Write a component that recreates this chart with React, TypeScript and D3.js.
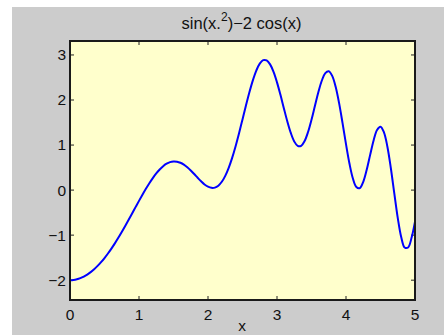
import * as d3 from 'd3';

// values, step 0.05
const xValues = d3.range(0, 101).map(i => +(i * 0.05).toFixed(2));
const yValues = [
  -2.0, -1.995, -1.98, -1.955, -1.9201, -1.8754, -1.8208, -1.7566, -1.6828, -1.5998,
  -1.5078, -1.4071, -1.2984, -1.1821, -1.0591, -0.9301, -0.7962, -0.6586, -0.5189, -0.3785,
  -0.2391, -0.103, 0.0284, 0.1526, 0.2667, 0.3693, 0.4579, 0.5306, 0.5853, 0.621,
  0.6366, 0.6315, 0.6078, 0.5657, 0.5066, 0.4355, 0.3562, 0.2739, 0.1948, 0.1246,
  0.0755, 0.0496, 0.0552, 0.0985, 0.185, 0.3167, 0.4951, 0.7156, 0.9751, 1.2634,
  1.5691, 1.8777, 2.1727, 2.4369, 2.6539, 2.8065, 2.8844, 2.8797, 2.7915, 2.6244,
  2.3921, 2.1146, 1.8141, 1.5225, 1.2687, 1.0805, 0.9805, 0.9823, 1.0885, 1.2894,
  1.5618, 1.8716, 2.1771, 2.4332, 2.5981, 2.6384, 2.5365, 2.2936, 1.9295, 1.4866,
  1.0194, 0.5901, 0.2575, 0.0683, 0.0449, 0.1841, 0.4497, 0.7819, 1.1032, 1.3346,
  1.4071, 1.2835, 0.9629, 0.4849, -0.0739, -0.616, -1.0418, -1.2735, -1.2739, -1.0601,
  -0.6997,
];
const xTicks = [0, 1, 2, 3, 4, 5];
const yTicks = [-2, -1, 0, 1, 2, 3];
const title = 'sin(x.';
const titleTail = ')\u22122 cos(x)';
const xLabel = 'x';

const W = 444;
const H = 335;
const plot = { left: 70, right: 415, top: 41, bottom: 300 };
const font = '"Liberation Sans", Arial, sans-serif';
const fmt = (v: number) => (v < 0 ? '\u2212' + Math.abs(v) : String(v));

export default function App() {
  const x = d3.scaleLinear().domain([0, 5]).range([plot.left, plot.right]);
  const y = d3.scaleLinear().domain([-2.44, 3.31]).range([plot.bottom, plot.top]);

  const points: [number, number][] = xValues.map((v, i) => [v, yValues[i]]);
  const line = d3.line<[number, number]>()
    .x(d => x(d[0]))
    .y(d => y(d[1]))
    .curve(d3.curveCatmullRom.alpha(0.5));

  const tickLen = 4;

  return (
    <svg
      width={W}
      height={H}
      style={{ position: 'absolute', left: 0, top: 0, fontFamily: font }}
    >
      <rect x={0} y={0} width={W} height={H} fill="#ffffff" />
      <rect x={12} y={7} width={W - 12} height={H - 7} fill="#cccccc" />
      <rect
        x={plot.left}
        y={plot.top}
        width={plot.right - plot.left}
        height={plot.bottom - plot.top}
        fill="#ffffcc"
      />

      {/* ticks on all four sides, pointing in */}
      <g stroke="#222" strokeWidth={1}>
        {xTicks.map(t => (
          <g key={'xt' + t}>
            <line x1={x(t)} x2={x(t)} y1={plot.bottom} y2={plot.bottom - tickLen} />
            <line x1={x(t)} x2={x(t)} y1={plot.top} y2={plot.top + tickLen} />
          </g>
        ))}
        {yTicks.map(t => (
          <g key={'yt' + t}>
            <line x1={plot.left} x2={plot.left + tickLen} y1={y(t)} y2={y(t)} />
            <line x1={plot.right} x2={plot.right - tickLen} y1={y(t)} y2={y(t)} />
          </g>
        ))}
      </g>

      <path d={line(points) || ''} fill="none" stroke="#0000ff" strokeWidth={2} />

      <rect
        x={plot.left}
        y={plot.top}
        width={plot.right - plot.left}
        height={plot.bottom - plot.top}
        fill="none"
        stroke="#1a1a1a"
        strokeWidth={2}
      />

      <g fontSize={15.5} fill="#111">
        {xTicks.map(t => (
          <text key={'xl' + t} x={x(t)} y={320} textAnchor="middle">
            {fmt(t)}
          </text>
        ))}
        {yTicks.map(t => (
          <text key={'yl' + t} x={66} y={y(t)} dy="0.35em" textAnchor="end">
            {fmt(t)}
          </text>
        ))}
        <text x={241.5} y={28.5} textAnchor="middle" fontSize={16.5}>
          {title}
          <tspan dy={-8} fontSize={12}>2</tspan>
          <tspan dy={8}>{titleTail}</tspan>
        </text>
        {/* the x label sits at the very bottom edge */}
        <text x={242} y={331} textAnchor="middle">{xLabel}</text>
      </g>
    </svg>
  );
}
